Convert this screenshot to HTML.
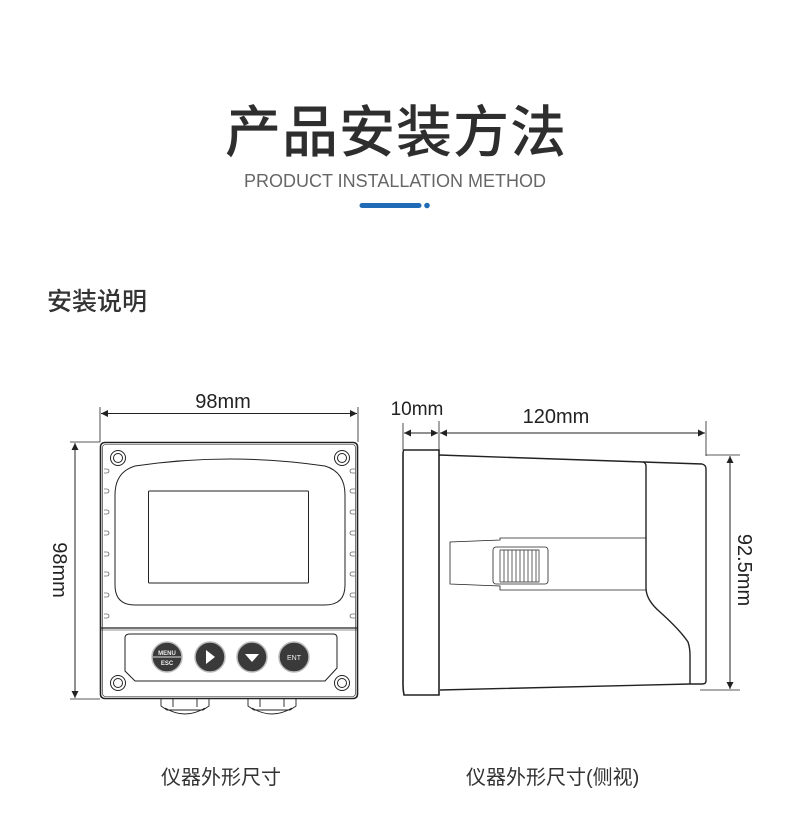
<!DOCTYPE html>
<html><head><meta charset="utf-8"><style>
body{margin:0;background:#fff;width:790px;height:816px;overflow:hidden}
svg{display:block}
.cj{font-family:"Liberation Sans","Noto Sans CJK SC",sans-serif}
</style></head><body>
<svg width="790" height="816" viewBox="0 0 790 816" xmlns="http://www.w3.org/2000/svg">
<defs>
<marker id="a" viewBox="0 0 10 10" refX="10" refY="5" markerWidth="10" markerHeight="7" orient="auto-start-reverse" markerUnits="userSpaceOnUse"><path d="M0,0 L10,5 L0,10z" fill="#222"/></marker>
</defs>
<text x="396" y="152" text-anchor="middle" class="cj" font-size="56" font-weight="500" fill="#2e2e2e" letter-spacing="1">产品安装方法</text>
<text x="395" y="187" text-anchor="middle" font-family="Liberation Sans" font-size="18" fill="#666">PRODUCT INSTALLATION METHOD</text>
<line x1="362" y1="205.5" x2="419" y2="205.5" stroke="#1f6bb5" stroke-width="5" stroke-linecap="round"/>
<circle cx="427" cy="205.5" r="2.8" fill="#1f6bb5"/>
<text x="47" y="310" class="cj" font-size="25" font-weight="500" fill="#333">安装说明</text>

<g fill="none" stroke="#222" stroke-width="1">
<line x1="100" y1="407" x2="100" y2="442" stroke-width="0.8"/>
<line x1="358" y1="407" x2="358" y2="442" stroke-width="0.8"/>
<line x1="101" y1="413.5" x2="357" y2="413.5" marker-start="url(#a)" marker-end="url(#a)"/>
<line x1="70" y1="442" x2="100" y2="442" stroke-width="0.8"/>
<line x1="70" y1="699" x2="100" y2="699" stroke-width="0.8"/>
<line x1="75" y1="443" x2="75" y2="698" marker-start="url(#a)" marker-end="url(#a)"/>
<rect x="100.5" y="442.5" width="257" height="256" rx="4" stroke-width="1.6"/>
<rect x="102.5" y="444.5" width="253" height="252" rx="3" stroke-width="0.6"/>
<path d="M135,466 Q230,452 325,466 Q345,472 345,495 L345,585 Q345,605 325,605 L135,605 Q115,605 115,585 L115,495 Q115,472 135,466Z" stroke-width="1"/>
<rect x="148.5" y="491" width="160" height="92" rx="1" stroke-width="1"/>
<line x1="101" y1="628" x2="357" y2="628" stroke-width="1.2"/>
<line x1="101" y1="630" x2="357" y2="630" stroke-width="0.5"/>
<path d="M130,634 L333,634 Q337,634 337,638 L337,668 L325,681 L135,681 L125,671 L125,638 Q125,634 130,634Z" stroke-width="1"/>
<g stroke-width="0.6">
<path d="M104,469h3a2,2 0 0 1 0,4h-3M104,489h3a2,2 0 0 1 0,4h-3M104,510h3a2,2 0 0 1 0,4h-3M104,531h3a2,2 0 0 1 0,4h-3M104,552h3a2,2 0 0 1 0,4h-3M104,572h3a2,2 0 0 1 0,4h-3M104,593h3a2,2 0 0 1 0,4h-3M104,614h3a2,2 0 0 1 0,4h-3"/>
<path d="M355,469h-3a2,2 0 0 0 0,4h3M355,489h-3a2,2 0 0 0 0,4h3M355,510h-3a2,2 0 0 0 0,4h3M355,531h-3a2,2 0 0 0 0,4h3M355,552h-3a2,2 0 0 0 0,4h3M355,572h-3a2,2 0 0 0 0,4h3M355,593h-3a2,2 0 0 0 0,4h3M355,614h-3a2,2 0 0 0 0,4h3"/>
</g>
<g stroke-width="1">
<circle cx="118" cy="458" r="7.5"/><circle cx="118" cy="458" r="4.5"/>
<circle cx="342" cy="458" r="7.5"/><circle cx="342" cy="458" r="4.5"/>
<circle cx="118" cy="683" r="7.5"/><circle cx="118" cy="683" r="4.5"/>
<circle cx="342" cy="683" r="7.5"/><circle cx="342" cy="683" r="4.5"/>
</g>
<path d="M161,699v7l6,4h36l6,-4v-7M173,699v8M197,699v8M165,708q20,12 40,0" stroke-width="0.9"/>
<path d="M248,699v7l6,4h36l6,-4v-7M260,699v8M284,699v8M252,708q20,12 40,0" stroke-width="0.9"/>
</g>
<g fill="#3a3a3a" stroke="#bbb" stroke-width="1.5">
<circle cx="167" cy="657" r="15"/><circle cx="210" cy="657" r="15"/><circle cx="252" cy="657" r="15"/><circle cx="294" cy="657" r="15"/>
</g>
<line x1="153" y1="657" x2="181" y2="657" stroke="#ddd" stroke-width="1"/>
<text x="167" y="655" text-anchor="middle" font-family="Liberation Sans" font-size="6" font-weight="bold" fill="#eee">MENU</text>
<text x="167" y="665" text-anchor="middle" font-family="Liberation Sans" font-size="6" font-weight="bold" fill="#eee">ESC</text>
<path d="M206,650 L215,657 L206,664Z" fill="#fff"/>
<path d="M245,654 L259,654 L252,662Z" fill="#fff"/>
<text x="294" y="660" text-anchor="middle" font-family="Liberation Sans" font-size="7" fill="#eee">ENT</text>
<text x="223" y="408" text-anchor="middle" font-family="Liberation Sans" font-size="20" fill="#222">98mm</text>
<text transform="translate(53,570) rotate(90)" text-anchor="middle" font-family="Liberation Sans" font-size="20" fill="#222">98mm</text>

<g fill="none" stroke="#222" stroke-width="1">
<line x1="403" y1="423" x2="403" y2="450" stroke-width="0.8"/>
<line x1="439" y1="421" x2="439" y2="452" stroke-width="0.8"/>
<line x1="706" y1="421" x2="706" y2="456" stroke-width="0.8"/>
<line x1="404" y1="433" x2="438" y2="433" marker-start="url(#a)" marker-end="url(#a)"/>
<line x1="440" y1="433" x2="705" y2="433" marker-start="url(#a)" marker-end="url(#a)"/>
<line x1="706" y1="455" x2="740" y2="455" stroke-width="0.8"/>
<line x1="700" y1="690" x2="740" y2="690" stroke-width="0.8"/>
<line x1="730" y1="456" x2="730" y2="689" marker-start="url(#a)" marker-end="url(#a)"/>
<path d="M404,450 L439,450 L439,695 L404,695 Q403,690 403,685 L403,455 Q403,450 404,450Z" stroke-width="1.6"/>
<path d="M439,455 L643,462 L702,464 Q706,465 706,469 L706,681 Q706,684 702,684 L690,684 L440,690" stroke-width="1.4"/>
<path d="M643,462 Q646,463 646,466 L646,588 Q646,600 660,612 Q680,630 688,642 Q690,648 690,655 L690,684" stroke-width="1.4"/>
<path d="M646,538 L500,538 L500,540 L450,542 L450,584 L500,586 L500,590 L646,590" stroke-width="0.8"/>
<rect x="493" y="547" width="55" height="37" rx="3" stroke-width="0.8"/>
<path d="M500,550h39v32h-39M500,550v32M504,550v32M508,550v32M512,550v32M516,550v32M520,550v32M524,550v32M528,550v32M532,550v32M536,550v32" stroke-width="0.7"/>
</g>
<text x="417" y="415" text-anchor="middle" font-family="Liberation Sans" font-size="19" fill="#222">10mm</text>
<text x="556" y="423" text-anchor="middle" font-family="Liberation Sans" font-size="20" fill="#222">120mm</text>
<text transform="translate(738,570) rotate(90)" text-anchor="middle" font-family="Liberation Sans" font-size="20" fill="#222">92.5mm</text>

<text x="161" y="784" class="cj" font-size="20" fill="#333">仪器外形尺寸</text>
<text x="466" y="784" class="cj" font-size="20" fill="#333">仪器外形尺寸(侧视)</text>
</svg>
</body></html>
